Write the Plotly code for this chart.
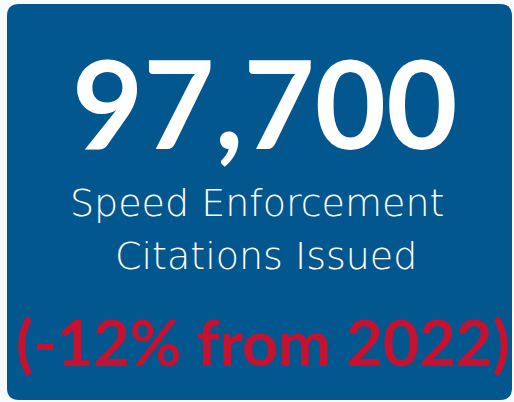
import plotly.graph_objects as go

headline_value = ["97,700"]
label_lines = ["Speed Enforcement", "Citations Issued"]
change_text = ["(-12% from 2022)"]

W, H = 514, 402
card_blue = "#02578F"
accent_red = "#C41230"

fig = go.Figure()

x0, y0, x1, y1, r = 7, 4, 512, 400, 12
# convert top-based pixel coords to y-up axis coords
Y = lambda v: H - v
path = (f"M {x0+r},{Y(y0)} L {x1-r},{Y(y0)} Q {x1},{Y(y0)} {x1},{Y(y0+r)} "
        f"L {x1},{Y(y1-r)} Q {x1},{Y(y1)} {x1-r},{Y(y1)} L {x0+r},{Y(y1)} "
        f"Q {x0},{Y(y1)} {x0},{Y(y1-r)} L {x0},{Y(y0+r)} Q {x0},{Y(y0)} {x0+r},{Y(y0)} Z")
fig.add_shape(type="path", path=path, xref="x", yref="y",
              fillcolor=card_blue, line=dict(width=0), layer="below")

fig.add_annotation(x=264, y=Y(101), text=f"<b>{headline_value[0]}</b>", showarrow=False,
                   font=dict(family="Lato", size=123, color="white"), xanchor="center", yanchor="middle")
fig.add_annotation(x=257, y=Y(203), text=label_lines[0], showarrow=False,
                   font=dict(family="DejaVu Sans", size=38, color="white", weight=300),
                   xanchor="center", yanchor="middle")
fig.add_annotation(x=266, y=Y(256), text=label_lines[1], showarrow=False,
                   font=dict(family="DejaVu Sans", size=38, color="white", weight=300),
                   xanchor="center", yanchor="middle")
fig.add_annotation(x=263, y=Y(341), text=f"<b>{change_text[0]}</b>", showarrow=False,
                   font=dict(family="Lato", size=63, color=accent_red), xanchor="center", yanchor="middle")

fig.update_layout(width=W, height=H, margin=dict(l=0, r=0, t=0, b=0),
                  paper_bgcolor="#F8FBFE", plot_bgcolor="#F8FBFE",
                  xaxis=dict(range=[0, W], visible=False, fixedrange=True),
                  yaxis=dict(range=[0, H], visible=False, fixedrange=True),
                  showlegend=False)
fig.write_html("out.html", config={"displayModeBar": False},
               post_script="document.body.style.margin='0';document.body.style.background='#F8FBFE';")
